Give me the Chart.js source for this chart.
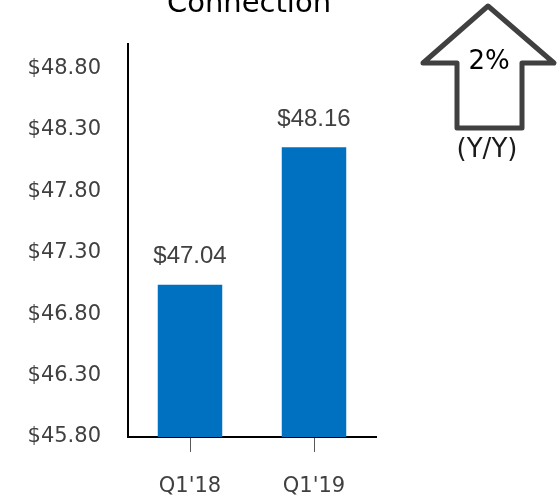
<!DOCTYPE html>
<html>
<head>
<meta charset="utf-8">
<script src="https://cdn.jsdelivr.net/npm/chart.js@4/dist/chart.umd.min.js"></script>
<style>
  html, body { margin: 0; padding: 0; background: #fff; }
</style>
</head>
<body>
<canvas id="myChart" width="558" height="497"></canvas>
<script>
const quarters = ["Q1'18", "Q1'19"];
const revenue = [47.04, 48.16];
const tickValues = [45.8, 46.3, 46.8, 47.3, 47.8, 48.3, 48.8];
const chartTitle = "Connection";
const changeText = "2%";
const changeNote = "(Y/Y)";

const textColor = "#404040";
const fontFamily = "'DejaVu Sans', Verdana, sans-serif";
const labelFont = "'Liberation Sans', Arial, sans-serif";

// Title, bar labels and the up arrow
const extras = {
  id: "extras",
  afterDraw(chart) {
    const c = chart.ctx;
    c.save();
    c.fillStyle = "#000";
    c.font = "29px " + fontFamily;
    c.textAlign = "center";
    c.textBaseline = "alphabetic";
    c.fillText(chartTitle, 249, 12);

    // value labels over bars
    c.fillStyle = textColor;
    c.font = "24px " + labelFont;
    c.textBaseline = "middle";
    chart.getDatasetMeta(0).data.forEach((bar, i) => {
      c.fillText("$" + revenue[i].toFixed(2), bar.x, bar.y - 28);
    });

    // arrow
    c.strokeStyle = "#404040";
    c.lineWidth = 5;
    c.lineJoin = "round";
    c.beginPath();
    c.moveTo(488, 6);
    c.lineTo(554, 63);
    c.lineTo(522, 63);
    c.lineTo(522, 128);
    c.lineTo(457, 128);
    c.lineTo(457, 63);
    c.lineTo(423, 63);
    c.closePath();
    c.stroke();

    c.fillStyle = "#000";
    c.font = "26px " + fontFamily;
    c.fillText(changeText, 489, 62);
    c.fillStyle = "#1a1a1a";
    c.fillText(changeNote, 487, 150);
    c.restore();
  },
};

const ctx = document.getElementById("myChart");
const myChart = new Chart(ctx, {
  type: "bar",
  data: {
    labels: quarters,
    datasets: [
      {
        data: revenue,
        backgroundColor: "#0070C0",
        categoryPercentage: 1,
        barPercentage: 0.52,
      },
    ],
  },
  options: {
    responsive: false,
    animation: false,
    layout: { padding: { top: 44, right: 182, left: 0, bottom: 0 } },
    plugins: {
      legend: { display: false },
      tooltip: { enabled: false },
    },
    scales: {
      x: {
        border: { color: "#000", width: 2 },
        grid: {
          offset: false,
          drawOnChartArea: false,
          tickLength: 15,
          color: "#595959",
          tickWidth: 1,
        },
        ticks: {
          color: textColor,
          font: { family: fontFamily, size: 21 },
          padding: 22,
        },
        afterFit(scale) {
          scale.height = 60;
        },
      },
      y: {
        min: 45.8,
        max: 49.0,
        border: { color: "#000", width: 2 },
        grid: { display: false, drawTicks: false },
        afterBuildTicks(scale) {
          scale.ticks = tickValues.map((v) => ({ value: v }));
        },
        ticks: {
          color: textColor,
          font: { family: fontFamily, size: 21 },
          padding: 27,
          callback: (v) => "$" + Number(v).toFixed(2),
        },
        afterFit(scale) {
          scale.width = 128;
        },
      },
    },
  },
  plugins: [extras],
});
</script>
</body>
</html>
